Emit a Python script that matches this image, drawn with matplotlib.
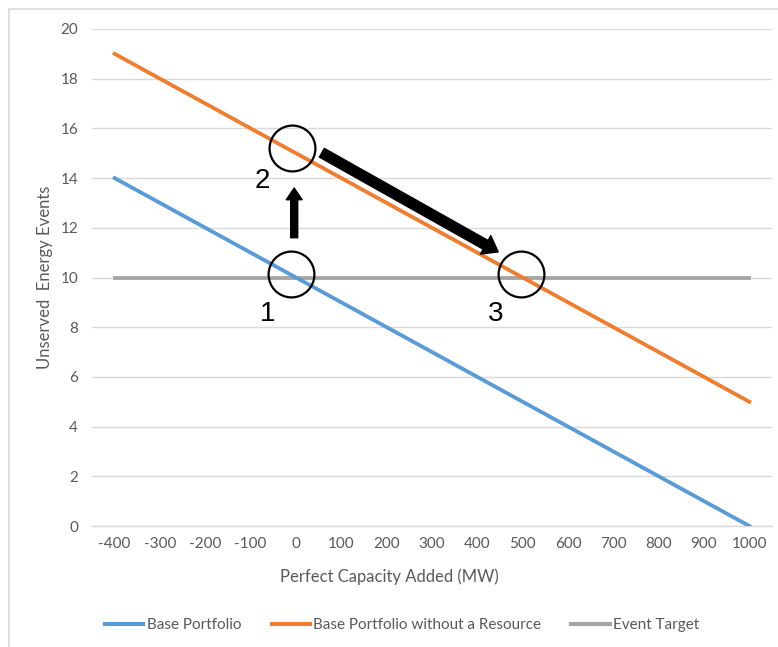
import matplotlib.pyplot as plt
from matplotlib.patches import Rectangle

# capacity added (MW) and unserved energy events for each portfolio
capacity = [-400, -300, -200, -100, 0, 100, 200, 300, 400, 500, 600, 700, 800, 900, 1000]
base_portfolio = [14, 13, 12, 11, 10, 9, 8, 7, 6, 5, 4, 3, 2, 1, 0]
without_resource = [19, 18, 17, 16, 15, 14, 13, 12, 11, 10, 9, 8, 7, 6, 5]
event_target = [10, 10, 10, 10, 10, 10, 10, 10, 10, 10, 10, 10, 10, 10, 10]
y_ticks = [0, 2, 4, 6, 8, 10, 12, 14, 16, 18, 20]

# steps of the method: circled points, their numbers, and the arrows between them
step_points = [(-12, 10.15), (-9, 15.2), (496, 10.15)]
step_labels = ["1", "2", "3"]
step_label_pos = [(-62, 8.55), (-75, 13.9), (441, 8.55)]

BLUE = "#5B9BD5"
ORANGE = "#ED7D31"
GRAY = "#A5A5A5"
TEXT = "#595959"
GRID = "#D9D9D9"

plt.rcParams['font.family'] = ['Lato', 'DejaVu Sans']
plt.rcParams['axes.unicode_minus'] = False

fig = plt.figure(figsize=(7.78, 6.47), dpi=100)
ax = fig.add_axes([92 / 778, 1 - 526 / 647, 680 / 778, 497 / 647])

# light frame around the chart area
fig.patches.append(Rectangle((8.5 / 778, -0.2), 1.2, 1.2 - 8.7 / 647,
                             transform=fig.transFigure, fill=False,
                             edgecolor=GRID, linewidth=1.2))

ax.plot(capacity, base_portfolio, color=BLUE, lw=2.75, label="Base Portfolio", zorder=3)
ax.plot(capacity, without_resource, color=ORANGE, lw=2.75,
        label="Base Portfolio without a Resource", zorder=3)
ax.plot(capacity, event_target, color=GRAY, lw=2.75, label="Event Target", zorder=2)

ax.set_xlim(-450, 1050)
ax.set_ylim(0, 20)
ax.set_xticks(capacity)
ax.set_yticks(y_ticks)
ax.tick_params(length=0, labelsize=11, labelcolor=TEXT)
ax.tick_params(axis='y', pad=10)
ax.tick_params(axis='x', pad=8)
ax.grid(axis='y', color=GRID, lw=1)
ax.set_axisbelow(True)
for side in ['top', 'right', 'left']:
    ax.spines[side].set_visible(False)
ax.spines['bottom'].set_color(GRID)
ax.spines['bottom'].set_linewidth(1)

ax.set_xlabel("Perfect Capacity Added (MW)", fontsize=12, color=TEXT)
ax.set_ylabel("Unserved  Energy Events", fontsize=12, color=TEXT)
ax.xaxis.set_label_coords(0.5, 1 - 577 / 647, transform=fig.transFigure)
ax.yaxis.set_label_coords(45 / 778, 1 - 277.5 / 647, transform=fig.transFigure)
ax.xaxis.label.set_va('center')
ax.yaxis.label.set_va('center')

# circles and numbers
for (x, y), lab, (lx, ly) in zip(step_points, step_labels, step_label_pos):
    ax.plot(x, y, 'o', ms=33, mfc='none', mec='black', mew=1.6, zorder=5)
    ax.text(lx, ly, lab, fontsize=20, family='Liberation Sans',
            ha='center', va='center', zorder=5)

# arrows: 1 -> 2 and 2 -> 3
ax.annotate("", xy=(-4, 13.6), xytext=(-4, 11.6),
            arrowprops=dict(arrowstyle="simple,head_length=0.7,head_width=0.95,tail_width=0.42",
                            mutation_scale=12, color='black', shrinkA=0, shrinkB=0))
ax.annotate("", xy=(446, 11.03), xytext=(57, 15.02),
            arrowprops=dict(arrowstyle="simple,head_length=0.65,head_width=0.95,tail_width=0.45",
                            mutation_scale=16, color='black', shrinkA=0, shrinkB=0))

leg = fig.legend(loc='center', bbox_to_anchor=(402 / 778, 1 - 625 / 647),
                 ncol=3, frameon=False, fontsize=11, handlelength=2.5,
                 handletextpad=0.2, columnspacing=2.0)
for t in leg.get_texts():
    t.set_color(TEXT)
for h in leg.get_lines():
    h.set_linewidth(3)

fig.savefig("out.png", dpi=100)
